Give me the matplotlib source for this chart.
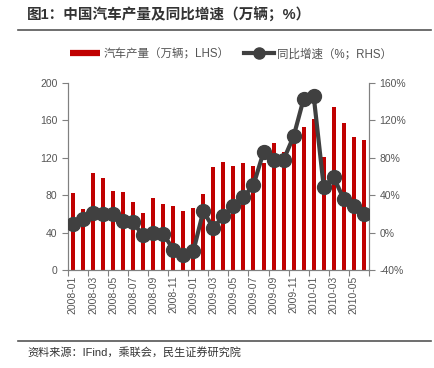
import matplotlib
matplotlib.use("Agg")
import matplotlib.pyplot as plt
from matplotlib.lines import Line2D
import numpy as np

plt.rcParams["font.family"] = ["Liberation Sans", "Noto Sans CJK SC", "DejaVu Sans"]

# monthly data, 2008-01 .. 2010-06
months = [
    "2008-01", "2008-02", "2008-03", "2008-04", "2008-05", "2008-06",
    "2008-07", "2008-08", "2008-09", "2008-10", "2008-11", "2008-12",
    "2009-01", "2009-02", "2009-03", "2009-04", "2009-05", "2009-06",
    "2009-07", "2009-08", "2009-09", "2009-10", "2009-11", "2009-12",
    "2010-01", "2010-02", "2010-03", "2010-04", "2010-05", "2010-06",
]
# production (10k units)
production = [
    82, 65, 104, 98, 85, 84, 73, 61, 77, 71, 68, 63,
    66, 81, 110, 116, 111, 115, 111, 114, 136, 126, 139, 153,
    162, 121, 174, 157, 142, 139,
]
# yoy growth (%)
yoy = [
    9, 15, 21, 20, 20, 13, 11, -3, 0, -1, -18, -24,
    -20, 23, 5, 18, 29, 38, 51, 86, 78, 78, 103, 143,
    146, 49, 59, 36, 29, 20,
]

bar_color = "#C00000"
line_color = "#404040"
gray = "#808080"

fig = plt.figure(figsize=(4.35, 3.68), dpi=100)
ax = fig.add_axes([0.156, 0.266, 0.692, 0.5085])
ax2 = ax.twinx()

x = np.arange(len(months))
ax.bar(x, production, width=0.4, color=bar_color, zorder=2)
ax2.plot(x, yoy, color=line_color, linewidth=3, marker="o", markersize=10, zorder=3)

ax.set_xlim(-0.5, len(months) - 0.5)
ax.set_ylim(0, 200)
ax.set_yticks(np.arange(0, 201, 40))
ax2.set_ylim(-40, 160)
ax2.set_yticks(np.arange(-40, 161, 40))
ax2.set_yticklabels([f"{v}%" for v in range(-40, 161, 40)])

# tick marks at category edges, labels under every other bar
ax.set_xticks(np.arange(-0.5, len(months), 2))
ax.set_xticklabels([])
ax.set_xticks(x[::2], minor=True)
ax.set_xticklabels(months[::2], minor=True, rotation=90)
ax.tick_params(axis="x", which="minor", length=0, pad=4, labelsize=7.5, labelcolor="#555555")
ax.tick_params(axis="x", which="major", length=4, color=gray, direction="out")

for a in (ax, ax2):
    a.tick_params(axis="y", length=4, color=gray, labelsize=7.5, labelcolor="#555555")
    for s in a.spines.values():
        s.set_color(gray)
    a.spines["top"].set_visible(False)

# legend
handles = [
    Line2D([], [], color=bar_color, linewidth=4.5, solid_capstyle="butt",
           label="汽车产量（万辆；LHS）"),
    Line2D([], [], color=line_color, linewidth=3, marker="o", markersize=8,
           label="同比增速（%；RHS）"),
]
fig.legend(handles=handles, loc="center left", bbox_to_anchor=(0.138, 0.852), ncol=2,
           frameon=False, fontsize=8.3, handlelength=2.6, handletextpad=0.25,
           columnspacing=1.3, labelcolor="#555555")

# title and source
fig.text(0.062, 0.958, "图1：中国汽车产量及同比增速（万辆；%）", fontsize=10.5,
         fontweight="bold", color="#333333", va="center")
fig.add_artist(Line2D([0.041, 0.99], [0.918, 0.918], color="#555555", linewidth=1.2))
fig.add_artist(Line2D([0.041, 0.99], [0.073, 0.073], color="#555555", linewidth=1.2))
fig.text(0.062, 0.043, "资料来源：IFind，乘联会，民生证券研究院", fontsize=8,
         color="#333333", va="center")

fig.savefig("out.png", dpi=100)
